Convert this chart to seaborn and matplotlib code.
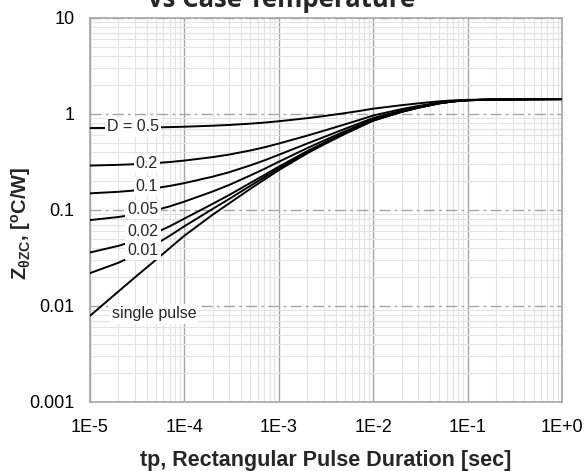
import matplotlib
matplotlib.use("Agg")
import matplotlib.pyplot as plt
import matplotlib.ticker as mticker
import numpy as np
import pandas as pd
import seaborn as sns

# pulse duration [sec]
tp = [1e-5, 2e-5, 3e-5, 5e-5, 7e-5,
      1e-4, 2e-4, 3e-4, 5e-4, 7e-4,
      1e-3, 2e-3, 3e-3, 5e-3, 7e-3,
      1e-2, 2e-2, 3e-2, 5e-2, 7e-2,
      1e-1, 2e-1, 3e-1, 5e-1, 7e-1, 1.0]

# thermal impedance [C/W]
z_d50 = [0.714, 0.717, 0.720, 0.725, 0.730,
         0.737, 0.755, 0.769, 0.793, 0.813,
         0.840, 0.905, 0.951, 1.020, 1.072,
         1.136, 1.235, 1.290, 1.355, 1.385,
         1.405, 1.418, 1.420, 1.423, 1.424, 1.425]
z_d20 = [0.2903, 0.2953, 0.2999, 0.3082, 0.3161,
         0.3272, 0.3556, 0.3782, 0.4170, 0.4492,
         0.492, 0.595, 0.669, 0.779, 0.862,
         0.965, 1.124, 1.212, 1.316, 1.364,
         1.396, 1.416, 1.420, 1.424, 1.426, 1.428]
z_d10 = [0.1491, 0.1547, 0.1599, 0.1693, 0.1781,
         0.1906, 0.2226, 0.2479, 0.2917, 0.3279,
         0.376, 0.492, 0.575, 0.699, 0.793,
         0.908, 1.087, 1.186, 1.303, 1.357,
         1.393, 1.416, 1.420, 1.425, 1.427, 1.429]
z_d05 = [0.0785, 0.0845, 0.0899, 0.0998, 0.1091,
         0.1223, 0.1560, 0.1828, 0.2290, 0.2672,
         0.318, 0.441, 0.528, 0.659, 0.758,
         0.879, 1.069, 1.173, 1.297, 1.354,
         1.392, 1.415, 1.420, 1.425, 1.428, 1.43]
z_d02 = [0.0361, 0.0423, 0.0479, 0.0581, 0.0677,
         0.0813, 0.1161, 0.1437, 0.1914, 0.2308,
         0.283, 0.410, 0.500, 0.635, 0.737,
         0.862, 1.057, 1.165, 1.293, 1.351,
         1.391, 1.415, 1.420, 1.425, 1.428, 1.43]
z_d01 = [0.0220, 0.0282, 0.0339, 0.0442, 0.0539,
         0.0677, 0.1028, 0.1307, 0.1788, 0.2186,
         0.272, 0.399, 0.490, 0.627, 0.730,
         0.857, 1.054, 1.163, 1.291, 1.351,
         1.390, 1.415, 1.420, 1.425, 1.428, 1.43]
z_single = [0.0079, 0.01416, 0.0199, 0.0303, 0.0401,
            0.054, 0.0895, 0.1177, 0.1663, 0.2065,
            0.260, 0.389, 0.481, 0.619, 0.723,
            0.851, 1.050, 1.160, 1.290, 1.350,
            1.390, 1.415, 1.420, 1.425, 1.428, 1.43]

series = ["0.5", "0.2", "0.1", "0.05", "0.02", "0.01", "single"]
values = [z_d50, z_d20, z_d10, z_d05, z_d02, z_d01, z_single]

# curve labels and where they sit
label_text = ["D = 0.5", "0.2", "0.1", "0.05", "0.02", "0.01", "single pulse"]
label_x = [2.85e-5, 4.0e-5, 4.0e-5, 3.64e-5, 3.64e-5, 3.64e-5, 4.76e-5]
label_y = [0.733, 0.303, 0.175, 0.101, 0.0598, 0.038, 0.00826]

x_ticks = [1e-5, 1e-4, 1e-3, 1e-2, 1e-1, 1.0]
x_ticklabels = ["1E-5", "1E-4", "1E-3", "1E-2", "1E-1", "1E+0"]
y_ticks = [0.001, 0.01, 0.1, 1, 10]
y_ticklabels = ["0.001", "0.01", "0.1", "1", "10"]

df = pd.concat([pd.DataFrame({"tp": tp, "z": v, "D": s})
                for s, v in zip(series, values)])

sns.set_style("white")
plt.rcParams["font.family"] = ["Liberation Sans", "DejaVu Sans"]
plt.rcParams["mathtext.fontset"] = "custom"
plt.rcParams["mathtext.rm"] = "Liberation Sans"
plt.rcParams["mathtext.bf"] = "Liberation Sans:bold"
plt.rcParams["mathtext.it"] = "Liberation Sans:italic"

fig = plt.figure(figsize=(5.85, 4.71), dpi=100)
ax = fig.add_axes([0.1538, 0.1465, 0.8068, 0.8153])

sns.lineplot(data=df, x="tp", y="z", hue="D", palette=["black"] * 7,
             linewidth=1.4, legend=False, ax=ax, zorder=3)

ax.set_xscale("log")
ax.set_yscale("log")
ax.set_xlim(1e-5, 1)
ax.set_ylim(0.001, 10)

ax.xaxis.set_minor_locator(mticker.LogLocator(base=10, subs=np.arange(2, 10)))
ax.yaxis.set_minor_locator(mticker.LogLocator(base=10, subs=np.arange(2, 10)))
ax.grid(which="minor", color="#e3e3e3", linewidth=0.8)
ax.grid(which="major", axis="x", color="#a6a6a6", linewidth=1.0)
ax.grid(which="major", axis="y", color="#a6a6a6", linewidth=1.0,
        linestyle=(0, (8, 3, 2, 3)))
ax.set_axisbelow(True)

ax.set_xticks(x_ticks)
ax.set_xticklabels(x_ticklabels)
ax.set_yticks(y_ticks)
ax.set_yticklabels(y_ticklabels)
ax.xaxis.set_minor_formatter(mticker.NullFormatter())
ax.yaxis.set_minor_formatter(mticker.NullFormatter())
ax.tick_params(which="both", length=0, labelsize=13, colors="black")
ax.tick_params(axis="x", pad=12)
ax.tick_params(axis="y", pad=11)

for s in ax.spines.values():
    s.set_color("#a6a6a6")
    s.set_linewidth(1.2)

for t, x, y in zip(label_text, label_x, label_y):
    ax.text(x, y, t, ha="center", va="center", fontsize=11.5, zorder=4,
            bbox=dict(facecolor="white", edgecolor="none", pad=1.5))

ax.set_xlabel("tp, Rectangular Pulse Duration [sec]", fontsize=15.5,
              fontweight="bold", labelpad=10)
ax.set_ylabel(r"Z$_{\mathbf{\theta ZC}}$, [$^{\mathbf{o}}$C/W]", fontsize=14.5,
              fontweight="bold", va="center")
ax.yaxis.set_label_coords(-0.146, 0.466)

fig.text(0.481, 0.985, "vs Case Temperature", ha="center", va="baseline",
         fontsize=18.5, fontweight="bold", family=["Open Sans", "DejaVu Sans"])

fig.savefig("out.png", dpi=100)
